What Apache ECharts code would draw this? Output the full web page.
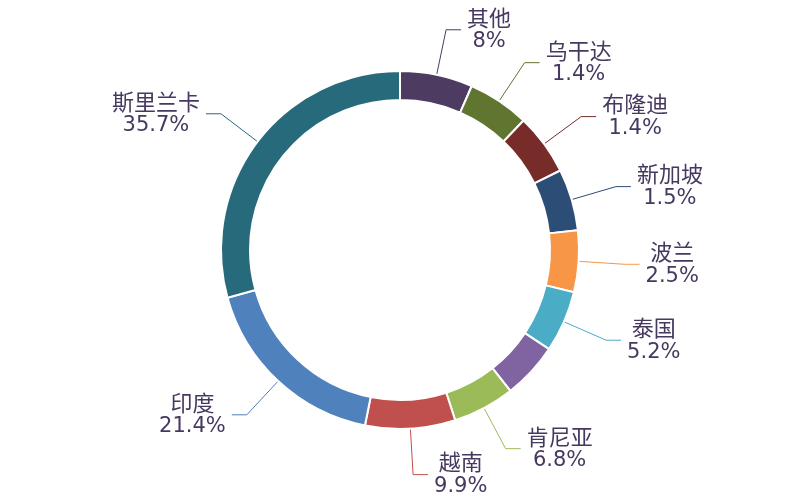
<!DOCTYPE html>
<html>
<head>
<meta charset="utf-8">
<script src="https://cdn.jsdelivr.net/npm/echarts@6/dist/echarts.min.js"></script>
<style>
html,body{margin:0;padding:0;background:#fff;}
#chart{width:800px;height:500px;}
</style>
</head>
<body>
<div id="chart"></div>
<script>
// Data (clockwise from 12 o'clock)
var categories = ['其他', '乌干达', '布隆迪', '新加坡', '波兰', '泰国', '未标注', '肯尼亚', '越南', '印度', '斯里兰卡'];
var percentValues = [8, 1.4, 1.4, 1.5, 2.5, 5.2, 6.2, 6.8, 9.9, 21.4, 35.7];
var hiddenLabels = ['未标注'];

// Styles
var sliceColors = ['#4D3B62', '#5F7530', '#772C2A', '#2C4D75', '#F79646', '#4BACC6', '#8064A2', '#9BBB59', '#C0504D', '#4F81BD', '#276A7C'];
var textColor = '#46385f';

var seriesData = categories.map(function (name, i) {
  var item = { name: name, value: percentValues[i], itemStyle: { color: sliceColors[i] } };
  if (hiddenLabels.indexOf(name) >= 0) {
    item.label = { show: false };
    item.labelLine = { show: false };
  }
  return item;
});

var chart = echarts.init(document.getElementById('chart'), null, { renderer: 'canvas' });
chart.setOption({
  backgroundColor: '#ffffff',
  animation: false,
  series: [{
    type: 'pie',
    center: ['50%', '50%'],
    radius: [150, 179],
    startAngle: 90,
    clockwise: true,
    minAngle: 20,
    avoidLabelOverlap: false,
    itemStyle: { borderColor: '#ffffff', borderWidth: 2 },
    label: {
      show: true,
      position: 'outside',
      distanceToLabelLine: 6,
      formatter: function (p) {
        return '{n|' + p.name + '}\n{v|' + p.value + '%}';
      },
      rich: {
        n: {
          align: 'center',
          fontFamily: '"Noto Sans CJK SC", "Noto Sans", sans-serif',
          fontSize: 22,
          lineHeight: 24,
          color: textColor
        },
        v: {
          align: 'center',
          fontFamily: '"DejaVu Sans", "Noto Sans", sans-serif',
          fontSize: 21,
          lineHeight: 25,
          color: textColor
        }
      }
    },
    labelLine: {
      show: true,
      length: 46,
      length2: 15,
      lineStyle: { width: 1 }
    },
    emphasis: { disabled: true },
    data: seriesData
  }]
});
</script>
</body>
</html>
